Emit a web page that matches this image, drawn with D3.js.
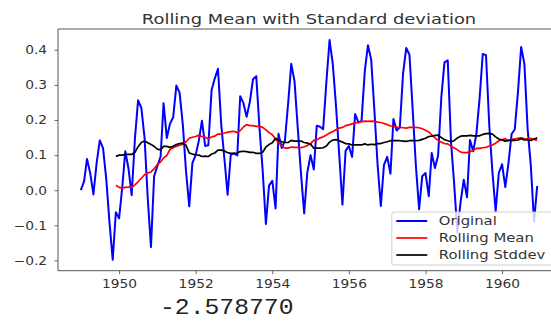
<!DOCTYPE html>
<html>
<head>
<meta charset="utf-8">
<script src="https://cdn.jsdelivr.net/npm/d3@7"></script>
<style>
  body { margin: 0; background: #fff; }
  svg { display: block; font-family: "DejaVu Sans", sans-serif; }
</style>
</head>
<body>
<div id="chart"></div>
<script>
// monthly series, Jan 1949 .. Dec 1960
const firstYear = 1949;
const lastYear = 1960;
const rollWindow = 12;

const original = [
  0.000, 0.025, 0.089, 0.048, -0.012, 0.078, 0.142, 0.120, 0.031, -0.090, -0.198, -0.063,
  -0.080, 0.011, 0.111, 0.061, -0.014, 0.147, 0.256, 0.235, 0.149, -0.022, -0.162, 0.040,
  0.069, 0.096, 0.248, 0.149, 0.189, 0.208, 0.298, 0.278, 0.186, 0.055, -0.046, 0.077,
  0.100, 0.142, 0.198, 0.126, 0.128, 0.285, 0.318, 0.346, 0.187, 0.091, -0.013, 0.101,
  0.105, 0.099, 0.268, 0.248, 0.209, 0.252, 0.316, 0.325, 0.177, 0.057, -0.096, 0.013,
  0.027, -0.052, 0.161, 0.120, 0.141, 0.247, 0.360, 0.310, 0.176, 0.050, -0.066, 0.051,
  0.100, 0.059, 0.184, 0.181, 0.174, 0.309, 0.428, 0.359, 0.238, 0.102, -0.041, 0.112,
  0.126, 0.095, 0.217, 0.193, 0.197, 0.339, 0.413, 0.372, 0.226, 0.073, -0.045, 0.072,
  0.095, 0.047, 0.203, 0.170, 0.179, 0.332, 0.405, 0.386, 0.228, 0.071, -0.054, 0.040,
  0.049, -0.017, 0.106, 0.063, 0.099, 0.265, 0.364, 0.370, 0.139, 0.019, -0.120, -0.035,
  0.030, -0.020, 0.143, 0.111, 0.160, 0.262, 0.388, 0.385, 0.185, 0.053, -0.060, 0.049,
  0.074, 0.009, 0.074, 0.160, 0.173, 0.281, 0.408, 0.360, 0.174, 0.072, -0.090, 0.012
];

// from Dec 1949 on
const rollingMean = [
  0.014, 0.008, 0.006, 0.008, 0.009, 0.009, 0.015, 0.024, 0.034, 0.044, 0.049, 0.052, 0.061,
  0.073, 0.081, 0.092, 0.099, 0.116, 0.121, 0.125, 0.128, 0.131, 0.138, 0.148, 0.151,
  0.153, 0.157, 0.153, 0.151, 0.146, 0.152, 0.154, 0.160, 0.160, 0.163, 0.165, 0.167,
  0.168, 0.164, 0.170, 0.180, 0.187, 0.184, 0.184, 0.182, 0.182, 0.179, 0.172, 0.164,
  0.158, 0.145, 0.136, 0.126, 0.120, 0.120, 0.123, 0.122, 0.122, 0.121, 0.124, 0.127,
  0.133, 0.142, 0.144, 0.149, 0.152, 0.157, 0.163, 0.167, 0.172, 0.177, 0.179, 0.184,
  0.186, 0.189, 0.192, 0.193, 0.195, 0.197, 0.196, 0.197, 0.196, 0.194, 0.193, 0.190,
  0.187, 0.183, 0.182, 0.180, 0.179, 0.178, 0.177, 0.179, 0.179, 0.179, 0.178, 0.175,
  0.171, 0.166, 0.158, 0.149, 0.142, 0.137, 0.133, 0.132, 0.125, 0.120, 0.115, 0.109,
  0.107, 0.107, 0.110, 0.114, 0.119, 0.119, 0.121, 0.122, 0.126, 0.129, 0.134, 0.141,
  0.144, 0.147, 0.141, 0.145, 0.146, 0.148, 0.149, 0.147, 0.146, 0.148, 0.145, 0.142
];

const rollingStd = [
  0.096, 0.100, 0.100, 0.102, 0.102, 0.102, 0.108, 0.124, 0.136, 0.140, 0.135, 0.130, 0.125,
  0.117, 0.115, 0.125, 0.125, 0.122, 0.125, 0.130, 0.133, 0.134, 0.128, 0.106, 0.103,
  0.101, 0.100, 0.096, 0.097, 0.096, 0.103, 0.106, 0.114, 0.114, 0.112, 0.107, 0.105,
  0.105, 0.106, 0.110, 0.111, 0.110, 0.108, 0.108, 0.105, 0.105, 0.108, 0.123, 0.130,
  0.135, 0.148, 0.143, 0.138, 0.136, 0.136, 0.142, 0.140, 0.140, 0.140, 0.136, 0.134,
  0.131, 0.120, 0.120, 0.120, 0.121, 0.126, 0.137, 0.143, 0.144, 0.141, 0.137, 0.133,
  0.132, 0.129, 0.129, 0.129, 0.129, 0.132, 0.129, 0.131, 0.130, 0.133, 0.133, 0.136,
  0.138, 0.141, 0.141, 0.141, 0.141, 0.140, 0.139, 0.141, 0.141, 0.141, 0.142, 0.145,
  0.148, 0.153, 0.154, 0.156, 0.157, 0.150, 0.144, 0.141, 0.138, 0.141, 0.149, 0.154,
  0.155, 0.155, 0.156, 0.155, 0.155, 0.155, 0.159, 0.161, 0.162, 0.160, 0.152, 0.146,
  0.143, 0.140, 0.142, 0.142, 0.142, 0.143, 0.147, 0.143, 0.143, 0.142, 0.146, 0.149
];

const yearTicks = [1950, 1952, 1954, 1956, 1958, 1960];
const yTicks = [-0.2, -0.1, 0.0, 0.1, 0.2, 0.3, 0.4];
const seriesNames = ["Original", "Rolling Mean", "Rolling Stddev"];
const seriesColors = ["#0000ff", "#ff0000", "#000000"];
const titleText = "Rolling Mean with Standard deviation";
const printedStat = "-2.578770";

const width = 551, height = 321;
const plot = { left: 58, right: 560, top: 29, bottom: 270.7 };

const svg = d3.select("#chart").append("svg")
  .attr("width", width)
  .attr("height", height);

const months = d3.timeMonth.range(new Date(firstYear, 0, 1), new Date(lastYear + 1, 0, 1));
const rollMonths = months.slice(rollWindow - 1);

// matplotlib style 5% margins
const xExt = d3.extent(months);
const xPad = (xExt[1] - xExt[0]) * 0.05;
const x = d3.scaleTime()
  .domain([new Date(+xExt[0] - xPad), new Date(+xExt[1] + xPad)])
  .range([plot.left, plot.right]);

const yExt = d3.extent(original.concat(rollingMean, rollingStd));
const yPad = (yExt[1] - yExt[0]) * 0.05;
const y = d3.scaleLinear()
  .domain([yExt[0] - yPad, yExt[1] + yPad])
  .range([plot.bottom, plot.top]);

// axes
const xAxis = d3.axisBottom(x)
  .tickValues(yearTicks.map(yr => new Date(yr, 0, 1)))
  .tickFormat(d3.timeFormat("%Y"))
  .tickSize(3.5)
  .tickPadding(5.5);

const yAxis = d3.axisLeft(y)
  .tickValues(yTicks)
  .tickFormat(d3.format(".1f"))
  .tickSize(3.5)
  .tickPadding(6);

const gx = svg.append("g")
  .attr("transform", "translate(0," + plot.bottom + ")")
  .call(xAxis);
const gy = svg.append("g")
  .attr("transform", "translate(" + plot.left + ",0)")
  .call(yAxis);

[gx, gy].forEach(g => {
  g.select(".domain").remove();
  g.selectAll(".tick line").attr("stroke", "#444").attr("stroke-width", 0.8);
  g.selectAll(".tick text")
    .attr("fill", "#333")
    .style("font-size", "12px")
    .style("font-family", "'DejaVu Sans', sans-serif")
    .attr("transform", "scale(1.15,1)");
});

// spines (the right one falls outside the picture)
svg.append("path")
  .attr("d", `M${plot.right},${plot.top}H${plot.left}V${plot.bottom}H${plot.right}`)
  .attr("fill", "none")
  .attr("stroke", "#444")
  .attr("stroke-width", 0.9);

// lines
const lineOrig = d3.line().x((d, i) => x(months[i])).y(d => y(d));
const lineRoll = d3.line().x((d, i) => x(rollMonths[i])).y(d => y(d));

svg.append("path")
  .datum(original)
  .attr("d", lineOrig)
  .attr("fill", "none")
  .attr("stroke", seriesColors[0])
  .attr("stroke-width", 2)
  .attr("stroke-linejoin", "round");

svg.append("path")
  .datum(rollingMean)
  .attr("d", lineRoll)
  .attr("fill", "none")
  .attr("stroke", seriesColors[1])
  .attr("stroke-width", 1.7)
  .attr("stroke-linejoin", "round");

svg.append("path")
  .datum(rollingStd)
  .attr("d", lineRoll)
  .attr("fill", "none")
  .attr("stroke", seriesColors[2])
  .attr("stroke-width", 1.7)
  .attr("stroke-linejoin", "round");

// title
svg.append("g")
  .attr("transform", "translate(" + ((plot.left + plot.right) / 2) + ",23.5) scale(1.28,1)")
  .append("text")
  .attr("text-anchor", "middle")
  .attr("fill", "#333")
  .style("font-size", "14px")
  .text(titleText);

// legend
const legend = svg.append("g").attr("transform", "translate(391.8,212)");
legend.append("rect")
  .attr("width", 200)
  .attr("height", 53)
  .attr("rx", 2.5)
  .attr("fill", "#fff")
  .attr("fill-opacity", 0.8)
  .attr("stroke", "#ccc")
  .attr("stroke-width", 0.9);

const rows = legend.selectAll("g.row")
  .data(seriesNames)
  .enter().append("g")
  .attr("class", "row")
  .attr("transform", (d, i) => "translate(0," + (9 + i * 17) + ")");

rows.append("line")
  .attr("x1", 4.5).attr("x2", 35.5)
  .attr("stroke", (d, i) => seriesColors[i])
  .attr("stroke-width", (d, i) => i === 0 ? 2 : 1.7);

rows.append("g")
  .attr("transform", "translate(47,4.2) scale(1.29,1)")
  .append("text")
  .attr("fill", "#333")
  .style("font-size", "11.5px")
  .text(d => d);

// printed output below the figure
svg.append("g")
  .attr("transform", "translate(160,313.5) scale(1.15,1)")
  .append("text")
  .attr("fill", "#222")
  .style("font-family", "'Liberation Mono', monospace")
  .style("font-size", "21.5px")
  .text(printedStat);
</script>
</body>
</html>
